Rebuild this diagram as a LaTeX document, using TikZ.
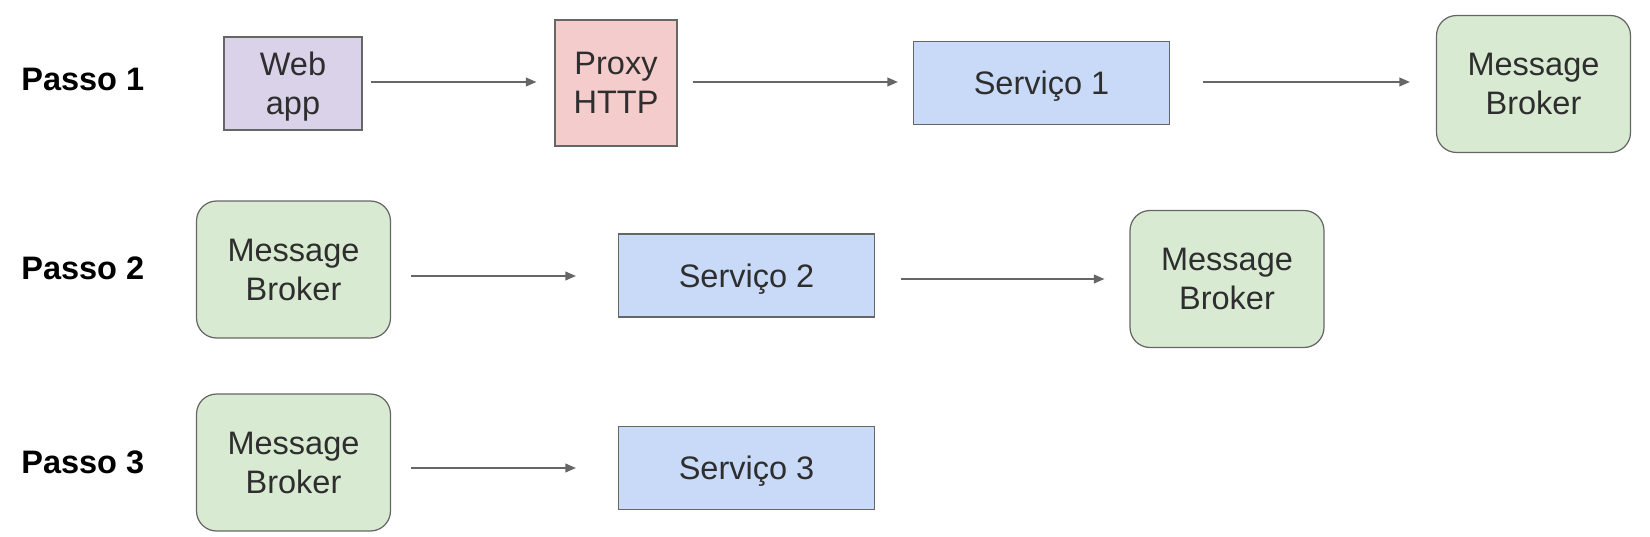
\documentclass[tikz,border=0pt]{standalone}
\usepackage{fontspec}
\setmainfont{Liberation Sans}
\usetikzlibrary{arrows.meta}
\definecolor{webfill}{HTML}{D9D2E9}
\definecolor{proxyfill}{HTML}{F4CCCC}
\definecolor{svcfill}{HTML}{C9DAF8}
\definecolor{brokerfill}{HTML}{D9EAD3}
\definecolor{boxline}{HTML}{666666}
\definecolor{boxtext}{HTML}{2E2E2E}
\tikzset{
  box/.style={rectangle, draw=boxline, line width=0.7pt, align=center, inner sep=0pt,
    text depth=0pt, text=boxtext, font=\fontsize{18.5}{22}\selectfont},
  broker/.style={box, fill=brokerfill, rounded corners=0.4cm, minimum width=3.88cm, minimum height=2.74cm},
  service/.style={box, fill=svcfill, minimum width=5.12cm, minimum height=1.66cm},
  passo/.style={anchor=west, inner sep=0pt, font=\fontsize{18.5}{22}\selectfont\bfseries},
  flow/.style={draw=boxline, line width=0.8pt, -{Triangle[length=6pt, width=5pt]}}
}
\begin{document}
\begin{tikzpicture}[x=0.02cm, y=-0.02cm]
    \useasboundingbox (0,0) rectangle (1650,537);
    % Passo 1
    \node (p1) [passo] at (21,79) {Passo 1};
    \node (web) [box, fill=webfill, minimum width=2.76cm, minimum height=1.86cm] at (293,83.5) {Web\\app};
    \node (proxy) [box, fill=proxyfill, minimum width=2.44cm, minimum height=2.52cm] at (616,83) {Proxy\\HTTP};
    \node (svc1) [service] at (1041.5,83) {Serviço 1};
    \node (mb1) [broker] at (1533.5,84) {Message\\Broker};
    \draw[flow, shorten <=0.16cm, shorten >=0.36cm] (web.east |- 0,82) -- (proxy.west |- 0,82);
    \draw[flow, shorten <=0.3cm, shorten >=0.3cm] (proxy.east |- 0,82) -- (svc1.west |- 0,82);
    \draw[flow, shorten <=0.66cm, shorten >=0.52cm] (svc1.east |- 0,82) -- (mb1.west |- 0,82);
    % Passo 2
    \node (p2) [passo] at (21,268) {Passo 2};
    \node (mb2a) [broker] at (293.5,269.5) {Message\\Broker};
    \node (svc2) [service] at (746.5,275.5) {Serviço 2};
    \node (mb2b) [broker] at (1227,279) {Message\\Broker};
    \draw[flow, shorten <=0.4cm, shorten >=0.84cm] (mb2a.east |- 0,276) -- (svc2.west |- 0,276);
    \draw[flow, shorten <=0.52cm, shorten >=0.5cm] (svc2.east |- 0,279) -- (mb2b.west |- 0,279);
    % Passo 3
    \node (p3) [passo] at (21,462) {Passo 3};
    \node (mb3) [broker] at (293.5,462.5) {Message\\Broker};
    \node (svc3) [service] at (746.5,468) {Serviço 3};
    \draw[flow, shorten <=0.4cm, shorten >=0.84cm] (mb3.east |- 0,468) -- (svc3.west |- 0,468);
\end{tikzpicture}
\end{document}
